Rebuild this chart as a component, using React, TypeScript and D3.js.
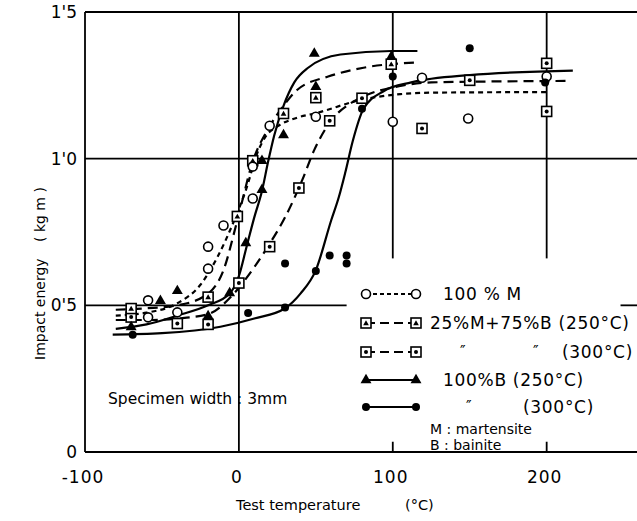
import { useEffect, useRef } from "react"
import * as d3 from "d3"

type Pt = [number, number]

// measured points (test temperature °C, impact energy kg m)
const pts100M: Pt[] = [
  [-59, 0.517], [-59, 0.459], [-40, 0.476], [-20, 0.625], [-20, 0.7], [-10, 0.772],
  [9, 0.864], [9, 0.973], [20, 1.112], [50, 1.143], [100, 1.126], [119, 1.276],
  [149, 1.137], [200, 1.28],
]
const ptsMix250: Pt[] = [
  [-70, 0.489], [-20, 0.528], [-1, 0.803], [9, 0.993], [29, 1.154], [50, 1.208], [99, 1.322],
]
const ptsMix300: Pt[] = [
  [-70, 0.46], [-40, 0.438], [-20, 0.435], [0, 0.576], [20, 0.7], [39, 0.9], [59, 1.129],
  [80, 1.206], [119, 1.103], [150, 1.267], [200, 1.325], [200, 1.161],
]
const ptsB250: Pt[] = [
  [-70, 0.426], [-51, 0.515], [-40, 0.549], [-20, 0.463], [-6, 0.542], [4.5, 0.712],
  [15, 0.894], [15, 0.993], [29, 1.08], [50, 1.245], [49, 1.358], [99, 1.347],
]
const ptsB300: Pt[] = [
  [-69, 0.4], [6, 0.474], [30, 0.493], [30, 0.643], [50, 0.617], [59, 0.67], [70, 0.67],
  [70, 0.643], [80, 1.17], [100, 1.28], [150, 1.376], [199, 1.26],
]

// fitted curves
const line100M: Pt[] = [
  [-80, 0.465], [-60, 0.475], [-40, 0.507], [-25, 0.57], [-14, 0.664], [-3, 0.79], [5, 0.9],
  [12, 1.02], [18, 1.08], [25, 1.11], [38, 1.14], [50, 1.155], [79, 1.2], [105, 1.22],
  [125, 1.225], [200, 1.227],
]
const lineMix250: Pt[] = [
  [-80, 0.485], [-60, 0.49], [-40, 0.5], [-20, 0.54], [-10, 0.62], [-1, 0.79], [9, 0.99],
  [20, 1.11], [29, 1.18], [38, 1.235], [58, 1.28], [81, 1.31], [115, 1.328],
]
const lineMix300: Pt[] = [
  [-80, 0.45], [-60, 0.45], [-40, 0.455], [-20, 0.47], [-5, 0.53], [0, 0.56], [10, 0.63],
  [20, 0.71], [30, 0.8], [41, 0.925], [49, 1.03], [60, 1.13], [73, 1.19], [80, 1.21],
  [105, 1.248], [125, 1.26], [213, 1.265],
]
const lineB250: Pt[] = [
  [-80, 0.42], [-60, 0.435], [-40, 0.465], [-20, 0.5], [-6, 0.54], [0, 0.6], [5, 0.7],
  [10, 0.8], [15, 0.89], [19, 0.99], [23, 1.08], [29, 1.18], [36, 1.26], [45, 1.31],
  [66, 1.355], [99, 1.367], [116, 1.367],
]
const lineB300: Pt[] = [
  [-82, 0.4], [-50, 0.405], [-12, 0.427], [10, 0.455], [30, 0.49], [40, 0.54], [50, 0.62],
  [60, 0.79], [65, 0.87], [69, 0.95], [74, 1.06], [81, 1.17], [94, 1.23], [112, 1.26],
  [150, 1.285], [217, 1.3],
]

const xTicks = [-100, 0, 100, 200]
const xTickLabels = ["-100", "0", "100", "200"]
const yTicks = [0, 0.5, 1.0, 1.5]
const yTickLabels = ["0", "0'5", "1'0", "1'5"]

const legendLabels = ["100 % M", "25%M+75%B (250°C)", "(300°C)", "100%B  (250°C)", "(300°C)"]

type Kind = "openCircle" | "squareTri" | "squareDot" | "triangle" | "dot"
type G = d3.Selection<SVGGElement, unknown, null, undefined>

const FONT = "'DejaVu Sans', sans-serif"

export default function App() {
  const svgRef = useRef<SVGSVGElement>(null)

  useEffect(() => {
    if (!svgRef.current) return
    const W = 637
    const H = 521
    d3.select(svgRef.current).selectAll("*").remove()
    const svg = d3.select(svgRef.current).attr("width", W).attr("height", H)

    svg.append("rect").attr("width", W).attr("height", H).attr("fill", "#fff")

    const x = d3.scaleLinear().domain([-100, 260]).range([85, 639])
    const y = d3.scaleLinear().domain([0, 1.5]).range([452, 12])

    const grid = svg.append("g").attr("stroke", "#000").attr("stroke-width", 1.8)
    // horizontal rules
    grid.append("line").attr("x1", x(-100)).attr("x2", W).attr("y1", y(1.5)).attr("y2", y(1.5))
    grid.append("line").attr("x1", x(-100)).attr("x2", W).attr("y1", y(1.0)).attr("y2", y(1.0))
    grid.append("line").attr("x1", x(-100)).attr("x2", x(70)).attr("y1", y(0.5)).attr("y2", y(0.5))
    grid.append("line").attr("x1", x(248)).attr("x2", W).attr("y1", y(0.5)).attr("y2", y(0.5))
    grid.append("line").attr("x1", x(-100)).attr("x2", W).attr("y1", y(0)).attr("y2", y(0))
    // vertical rules
    grid.append("line").attr("x1", x(-100)).attr("x2", x(-100)).attr("y1", y(1.5)).attr("y2", y(0))
    grid.append("line").attr("x1", x(0)).attr("x2", x(0)).attr("y1", y(1.5)).attr("y2", y(0))
    ;[100, 200].forEach((t) => {
      grid.append("line").attr("x1", x(t)).attr("x2", x(t)).attr("y1", y(1.5)).attr("y2", y(0.66))
      grid.append("line").attr("x1", x(t)).attr("x2", x(t)).attr("y1", y(0.035)).attr("y2", y(0))
    })

    // tick labels
    const txt = svg.append("g").attr("font-family", FONT).attr("fill", "#000")
    xTicks.forEach((t, i) => {
      txt.append("text").attr("x", x(t) - 2).attr("y", 483).attr("text-anchor", "middle")
        .attr("font-size", 17).attr("letter-spacing", 1).text(xTickLabels[i])
    })
    yTicks.forEach((v, i) => {
      txt.append("text").attr("x", 77).attr("y", y(v) + 6).attr("text-anchor", "end")
        .attr("font-size", 17).text(yTickLabels[i])
    })

    // axis titles
    txt.append("text").attr("x", 236).attr("y", 510).attr("font-size", 14.5).text("Test  temperature")
    txt.append("text").attr("x", 405).attr("y", 510).attr("font-size", 14.5).text("(°C)")
    txt.append("text").attr("transform", "translate(45,360) rotate(-90)").attr("font-size", 14)
      .text("Impact  energy")
    txt.append("text").attr("transform", "translate(45,242) rotate(-90)").attr("font-size", 14)
      .text("( kg m )")

    // curves
    const lineGen = d3.line<Pt>().x((d) => x(d[0])).y((d) => y(d[1])).curve(d3.curveMonotoneX)
    const curves: { data: Pt[]; dash: string | null }[] = [
      { data: line100M, dash: "5,4" },
      { data: lineMix250, dash: "10,6" },
      { data: lineMix300, dash: "10,6" },
      { data: lineB250, dash: null },
      { data: lineB300, dash: null },
    ]
    const cg = svg.append("g").attr("fill", "none").attr("stroke", "#000").attr("stroke-width", 2.2)
    curves.forEach((c) => {
      const p = cg.append("path").attr("d", lineGen(c.data))
      if (c.dash) p.attr("stroke-dasharray", c.dash)
    })

    // markers
    const tri = d3.symbol().type(d3.symbolTriangle)
    const drawMarker = (g: G, kind: Kind, cx: number, cy: number) => {
      if (kind === "openCircle") {
        g.append("circle").attr("cx", cx).attr("cy", cy).attr("r", 4.5)
          .attr("fill", "#fff").attr("stroke", "#000").attr("stroke-width", 1.6)
      } else if (kind === "squareTri" || kind === "squareDot") {
        g.append("rect").attr("x", cx - 5).attr("y", cy - 5).attr("width", 10).attr("height", 10)
          .attr("fill", "#fff").attr("stroke", "#000").attr("stroke-width", 1.6)
        if (kind === "squareTri") {
          g.append("path").attr("d", tri.size(14)()).attr("transform", `translate(${cx},${cy + 0.5})`)
            .attr("fill", "#000")
        } else {
          g.append("circle").attr("cx", cx).attr("cy", cy).attr("r", 2).attr("fill", "#000")
        }
      } else if (kind === "triangle") {
        g.append("path").attr("d", tri.size(52)()).attr("transform", `translate(${cx},${cy})`)
          .attr("fill", "#000")
      } else {
        g.append("circle").attr("cx", cx).attr("cy", cy).attr("r", 4).attr("fill", "#000")
      }
    }

    const mg = svg.append("g") as unknown as G
    const series: { pts: Pt[]; kind: Kind }[] = [
      { pts: ptsMix300, kind: "squareDot" },
      { pts: ptsMix250, kind: "squareTri" },
      { pts: pts100M, kind: "openCircle" },
      { pts: ptsB300, kind: "dot" },
      { pts: ptsB250, kind: "triangle" },
    ]
    series.forEach((s) => s.pts.forEach((d) => drawMarker(mg, s.kind, x(d[0]), y(d[1]))))

    // legend
    const legendKinds: Kind[] = ["openCircle", "squareTri", "squareDot", "triangle", "dot"]
    const legendDash = ["4,3", "9,5", "9,5", null, null]
    const rowY = [294, 323, 352, 380, 407]
    const lx1 = 366
    const lx2 = 416
    const lg = svg.append("g") as unknown as G
    legendKinds.forEach((k, i) => {
      const l = lg.append("line").attr("x1", lx1).attr("x2", lx2).attr("y1", rowY[i]).attr("y2", rowY[i])
        .attr("stroke", "#000").attr("stroke-width", 2)
      if (legendDash[i]) l.attr("stroke-dasharray", legendDash[i] as string)
    })
    legendKinds.forEach((k, i) => {
      drawMarker(lg, k, lx1, rowY[i])
      drawMarker(lg, k, lx2, rowY[i])
    })
    const lt = svg.append("g").attr("font-family", FONT).attr("font-size", 17)
      .attr("letter-spacing", 0.7).attr("fill", "#000")
    lt.append("text").attr("x", 443).attr("y", rowY[0] + 6).text(legendLabels[0])
    lt.append("text").attr("x", 430).attr("y", rowY[1] + 6).text(legendLabels[1])
    lt.append("text").attr("x", 562).attr("y", rowY[2] + 6).text(legendLabels[2])
    lt.append("text").attr("x", 443).attr("y", rowY[3] + 6).text(legendLabels[3])
    lt.append("text").attr("x", 523).attr("y", rowY[4] + 6).text(legendLabels[4])
    // ditto marks
    const ditto = [[460, rowY[2]], [533, rowY[2]], [466, rowY[4]]]
    ditto.forEach(([dx, dy]) => {
      lt.append("text").attr("x", dx).attr("y", dy + 5).attr("font-size", 15).attr("letter-spacing", 0)
        .text("\u2033")
    })
    lt.append("text").attr("x", 430).attr("y", 434).attr("font-size", 14).attr("letter-spacing", 0)
      .text("M : martensite")
    lt.append("text").attr("x", 430).attr("y", 450).attr("font-size", 14).attr("letter-spacing", 0)
      .text("B : bainite")

    svg.append("text").attr("x", 108).attr("y", 404).attr("font-family", FONT).attr("font-size", 15.5)
      .text("Specimen  width : 3mm")
  }, [])

  return (
    <div style={{ position: "absolute", left: 0, top: 0 }}>
      <svg ref={svgRef}></svg>
    </div>
  )
}
